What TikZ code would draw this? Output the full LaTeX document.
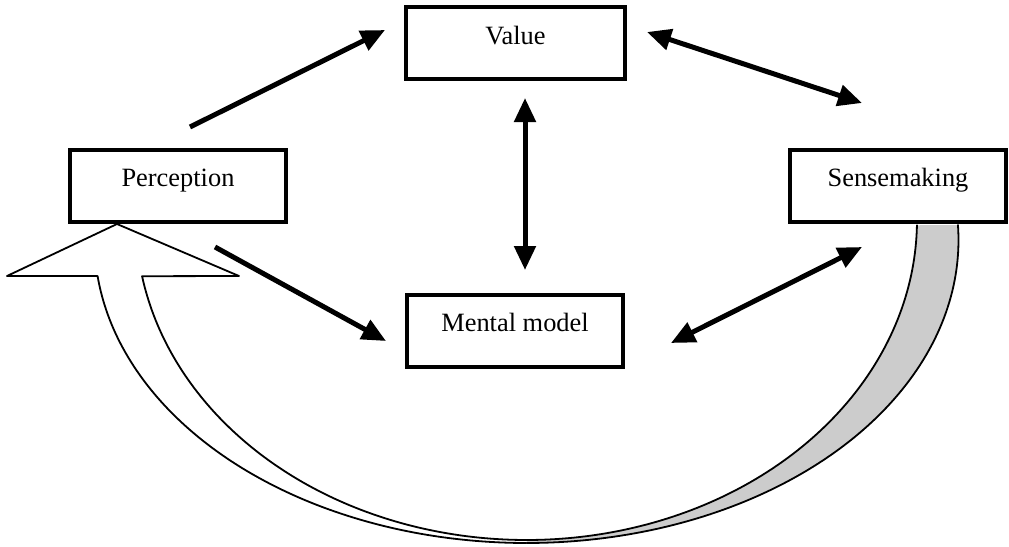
\documentclass[tikz,border=0pt]{standalone}
\usepackage{fontspec}
\setmainfont{Liberation Serif}
\usetikzlibrary{arrows.meta}
\definecolor{backgray}{HTML}{CCCCCC}
\begin{document}
\begin{tikzpicture}[x=1pt,y=-1pt,
  box/.style={draw,line width=4pt,fill=white,rectangle,inner sep=0pt,
    minimum width=216pt,text height=37pt,text depth=35pt,
    font=\fontsize{26.4}{30}\selectfont},
  conn/.style={line width=5pt},
  band/.style={line width=1.8pt,line join=round,line cap=round},
  headtip/.tip={Triangle[length=24pt,width=21pt]}]
\useasboundingbox (0,0) rectangle (1009,546);

% curved up arrow: fills (back gray band, front white band with head)
\fill[backgray]
  plot[variable=\t,domain=0:1,samples=90]
    ({526.5+432*cos(-2.84+92.84*\t)},{240+303*sin(-2.84+92.84*\t)})
  -- plot[variable=\t,domain=0:1,samples=90]
    ({526.5+390.5*cos(90-89.1*\t)},{220+320*sin(90-89.1*\t)})
  -- cycle;
\fill[white]
  (142,276) -- (239,276) -- (117,224) -- (7,276) -- (97.6,276)
  -- plot[variable=\t,domain=0:1,samples=90]
    ({526.5+432*cos(173.18-83.18*\t)},{240+303*sin(173.18-83.18*\t)})
  -- plot[variable=\t,domain=0:1,samples=90]
    ({526.5+390.5*cos(90+79.92*\t)},{220+320*sin(90+79.92*\t)})
  -- cycle;
% curved up arrow: outlines
\draw[band]
  plot[variable=\t,domain=0:1,samples=90]
    ({526.5+432*cos(-2.84+92.84*\t)},{240+303*sin(-2.84+92.84*\t)});
\draw[band]
  plot[variable=\t,domain=0:1,samples=90]
    ({526.5+390.5*cos(90-89.1*\t)},{220+320*sin(90-89.1*\t)});
\draw[band]
  plot[variable=\t,domain=0:1,samples=90]
    ({526.5+390.5*cos(90+79.92*\t)},{220+320*sin(90+79.92*\t)})
  -- (239,276) -- (117,224) -- (7,276) -- (97.6,276)
  -- plot[variable=\t,domain=0:1,samples=90]
    ({526.5+432*cos(173.18-83.18*\t)},{240+303*sin(173.18-83.18*\t)});

% boxes
\node[box,minimum width=219pt] (value) at (515.5,43) {Value};
\node[box] (perc) at (178,185.5) {Perception};
\node[box] (sense) at (898,185.5) {Sensemaking};
\node[box] (mental) at (515,330.5) {Mental model};

% connector end points
\coordinate (pvA) at (190,127);
\coordinate (pvB) at (385,30);
\coordinate (vsA) at (647,32);
\coordinate (vsB) at (862,103);
\coordinate (vmA) at (525,98);
\coordinate (vmB) at (525,270);
\coordinate (pmA) at (215,247);
\coordinate (pmB) at (386,341);
\coordinate (msA) at (671,343);
\coordinate (msB) at (862,247);

\draw[conn,-headtip] (pvA) -- (pvB);
\draw[conn,headtip-headtip] (vsA) -- (vsB);
\draw[conn,headtip-headtip] (vmA) -- (vmB);
\draw[conn,-headtip] (pmA) -- (pmB);
\draw[conn,headtip-headtip] (msA) -- (msB);
\end{tikzpicture}
\end{document}
